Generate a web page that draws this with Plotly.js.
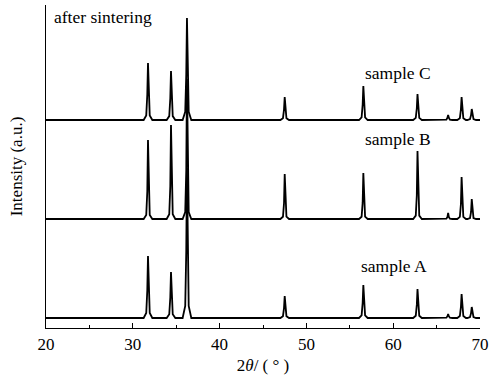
<!DOCTYPE html>
<html>
<head>
<meta charset="utf-8">
<script src="https://cdn.plot.ly/plotly-3.0.1.min.js"></script>
<style>html,body{margin:0;padding:0;background:#fff;}#chart{width:491px;height:377px;}</style>
</head>
<body>
<div id="chart"></div>
<script>
// 2-theta grid (degrees), shared by all three patterns
const twoTheta = [20,
  31.25, 31.55, 31.67, 31.75, 31.83, 31.95, 32.25,
  33.90, 34.20, 34.32, 34.40, 34.48, 34.60, 34.90,
  35.74, 36.04, 36.16, 36.24, 36.32, 36.44, 36.74,
  47.00, 47.30, 47.42, 47.50, 47.58, 47.70, 48.00,
  56.06, 56.36, 56.48, 56.56, 56.64, 56.76, 57.06,
  62.30, 62.60, 62.72, 62.80, 62.88, 63.00, 63.30,
  65.83, 66.13, 66.25, 66.33, 66.41, 66.53, 66.83,
  67.38, 67.68, 67.80, 67.88, 67.96, 68.08, 68.38,
  68.55, 68.85, 68.97, 69.05, 69.13, 69.25, 69.55,
  70];

// Intensities (a.u., stacked patterns)
const sampleA = [10,
  10, 15, 37.9, 72, 37.9, 15, 10,
  10, 13.7, 30.7, 56, 30.7, 13.7, 10,
  10, 22, 77.5, 160, 77.5, 22, 10,
  10, 11.8, 19.9, 32, 19.9, 11.8, 10,
  10, 12.6, 24.9, 43, 24.9, 12.6, 10,
  10, 12.3, 23.1, 39, 23.1, 12.3, 10,
  10, 10.3, 11.8, 14, 11.8, 10.3, 10,
  10, 11.9, 20.8, 34, 20.8, 11.9, 10,
  10, 10.9, 15, 21, 15, 10.9, 10,
  10];

const sampleB = [109,
  109, 113, 136.7, 188, 136.7, 113, 109,
  109, 113.7, 141.9, 203, 141.9, 113.7, 109,
  109, 116, 158, 249, 158, 116, 109,
  109, 111.3, 124.8, 154, 124.8, 111.3, 109,
  109, 111.3, 125.1, 155, 125.1, 111.3, 109,
  109, 112.4, 132.8, 177, 132.8, 112.4, 109,
  109, 109.3, 111.1, 115, 111.1, 109.3, 109,
  109, 111.1, 123.7, 151, 123.7, 111.1, 109,
  109, 110, 116, 129, 116, 110, 109,
  109];

const sampleC = [208,
  208, 212.6, 233.7, 265, 233.7, 212.6, 208,
  208, 211.9, 230, 257, 230, 211.9, 208,
  208, 216.2, 253.9, 310, 253.9, 216.2, 208,
  208, 209.8, 218.4, 231, 218.4, 209.8, 208,
  208, 210.7, 223.3, 242, 223.3, 210.7, 208,
  208, 210.1, 219.7, 234, 219.7, 210.1, 208,
  208, 208.4, 210.3, 213, 210.3, 208.4, 208,
  208, 209.8, 218.4, 231, 218.4, 209.8, 208,
  208, 208.9, 213, 219, 213, 208.9, 208,
  208];

const seriesNames = ['sample A', 'sample B', 'sample C'];
const xTickVals = [20, 30, 40, 50, 60, 70];
const xTickText = ['20', '30', '40', '50', '60', '70'];

const FONT = '"Liberation Serif", serif';
const lineStyle = {color: '#000', width: 1.8};

const traces = [sampleA, sampleB, sampleC].map((ys, i) => ({
  type: 'scatter', mode: 'lines', x: twoTheta, y: ys, name: seriesNames[i],
  line: lineStyle, hoverinfo: 'skip', showlegend: false
}));

const layout = {
  width: 491, height: 377,
  margin: {l: 46, r: 11, t: 5, b: 49},
  paper_bgcolor: '#fff', plot_bgcolor: '#fff',
  font: {family: FONT, size: 17, color: '#000'},
  showlegend: false,
  xaxis: {
    range: [20, 70], tickvals: xTickVals, ticktext: xTickText,
    ticks: 'inside', ticklen: 5, tickwidth: 1, tickcolor: '#000',
    minor: {dtick: 5, ticks: 'inside', ticklen: 3, tickwidth: 1, tickcolor: '#000'},
    showline: true, linecolor: '#000', linewidth: 1.4, mirror: false,
    showgrid: false, zeroline: false,
    tickfont: {family: FONT, size: 17, color: '#000'},
    title: {text: '2<i>θ</i>/ ( ° )', font: {family: FONT, size: 17, color: '#000'}, standoff: 6}
  },
  yaxis: {
    range: [0, 323],
    showticklabels: false, ticks: '',
    showline: true, linecolor: '#000', linewidth: 1.4, mirror: false,
    showgrid: false, zeroline: false,
    title: {text: 'Intensity (a.u.)', font: {family: FONT, size: 17, color: '#000'}, standoff: 17}
  },
  annotations: [
    {text: 'after sintering', xref: 'paper', yref: 'paper', x: 0.014, y: 0.963,
     xanchor: 'left', yanchor: 'middle', showarrow: false, font: {family: FONT, size: 17.5, color: '#000'}},
    {text: 'sample C', xref: 'x', yref: 'y', x: 56.5, y: 255,
     xanchor: 'left', yanchor: 'middle', showarrow: false, font: {family: FONT, size: 17.5, color: '#000'}},
    {text: 'sample B', xref: 'x', yref: 'y', x: 56.5, y: 189,
     xanchor: 'left', yanchor: 'middle', showarrow: false, font: {family: FONT, size: 17.5, color: '#000'}},
    {text: 'sample A', xref: 'x', yref: 'y', x: 56.1, y: 62,
     xanchor: 'left', yanchor: 'middle', showarrow: false, font: {family: FONT, size: 17.5, color: '#000'}}
  ]
};

Plotly.newPlot('chart', traces, layout, {staticPlot: true, displayModeBar: false});
</script>
</body>
</html>
